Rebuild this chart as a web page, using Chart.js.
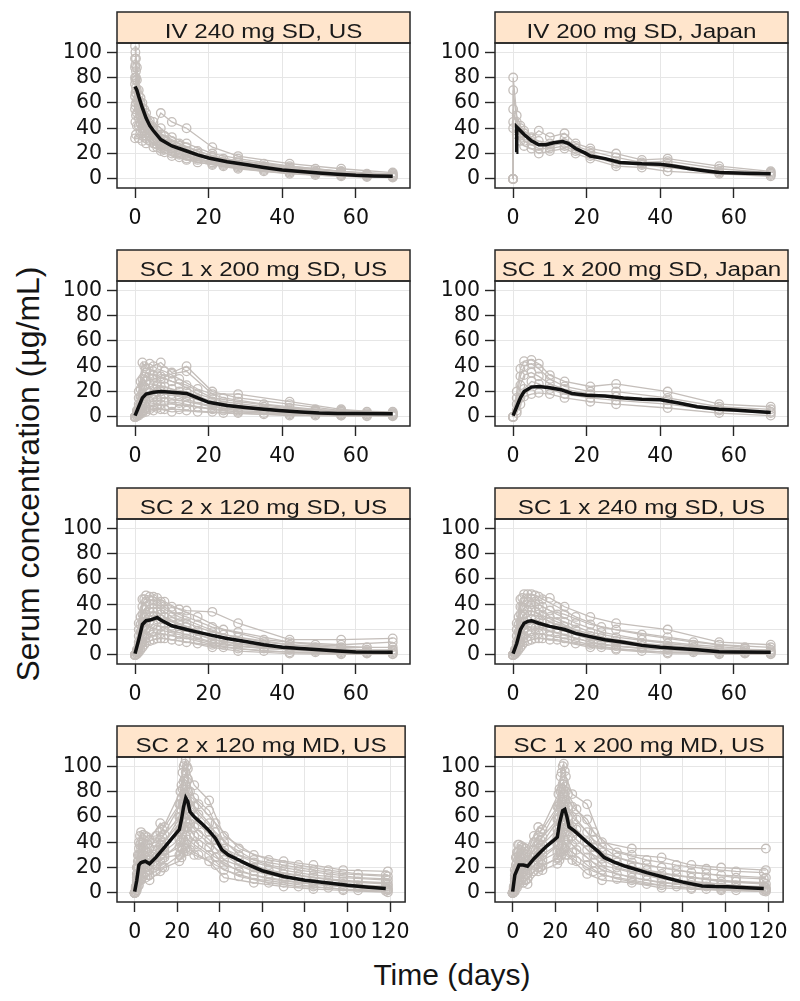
<!DOCTYPE html>
<html>
<head>
<meta charset="utf-8">
<script src="https://cdn.jsdelivr.net/npm/chart.js@4.4.1/dist/chart.umd.min.js"></script>
<style>
  body { margin: 0; background: #fff; }
  #wrap { position: relative; width: 800px; height: 1001px; font-family: "Liberation Sans", Arial, sans-serif; color: #151515; }
  #wrap canvas { position: absolute; }
  #ytitle { position: absolute; left: -222px; top: 458px; width: 500px; height: 32px; line-height: 32px; font-size: 32px; text-align: center; transform: rotate(-90deg); white-space: nowrap; }
  #xtitle { position: absolute; left: 300px; top: 960px; width: 304px; font-size: 30px; line-height: 30px; text-align: center; }
</style>
</head>
<body>
<div id="wrap">
  <div id="ytitle">Serum concentration (µg/mL)</div>
  <div id="xtitle">Time (days)</div>
</div>
<script>
// tick labels
const yTicks = [0, 20, 40, 60, 80, 100];
const xTicksSD = [0, 20, 40, 60];
const xTicksMD = [0, 20, 40, 60, 80, 100, 120];

// sampling days (two sampling schemes per study)
const ivDays = [0, 0.25, 1, 2, 3, 5, 7, 10, 14, 21, 28, 42, 56, 70];
const ivDays2 = [0.1, 0.5, 1.5, 2.5, 4, 6, 8, 12, 17, 24, 35, 49, 63];
const ivJpDays = [0, 0.04, 1, 2, 3, 5, 7, 10, 14, 17, 21, 28, 35, 42, 56, 70];
const scDays = [0, 1, 2, 3, 5, 7, 10, 14, 21, 28, 42, 56, 70];
const scDays2 = [0.5, 1.5, 2.5, 4, 6, 8, 12, 17, 24, 35, 49, 63];
const mdDays = [0, 1, 2, 3, 5, 7, 12, 14, 21, 22, 23, 24, 25, 28, 35, 42, 56, 70, 84, 98, 119];
const mdDays2 = [0.5, 1.5, 2.5, 4, 6, 10, 13, 21.5, 22.5, 23.5, 24.5, 26, 30, 38, 49, 63, 77, 91, 105, 118];

// IV 240 mg SD, US
const ivUsSubj = [
  [105, 95, 70, 60, 52, 45, 40, 33, 28, 20, 16, 10, 6, 4],
  [95, 85, 66, 56, 48, 40, 52, 45, 40, 25, 18, 12, 8, 5],
  [88, 80, 62, 52, 45, 38, 35, 30, 25, 18, 14, 9, 6, 3],
  [80, 72, 58, 48, 42, 35, 30, 26, 22, 17, 13, 8, 5, 3],
  [75, 68, 55, 45, 38, 32, 28, 24, 20, 15, 11, 7, 4, 2],
  [65, 60, 48, 40, 34, 30, 26, 22, 18, 13, 10, 6, 3, 2],
  [55, 50, 42, 36, 32, 28, 24, 20, 16, 12, 9, 5, 3, 1.5],
  [32, 35, 32, 30, 28, 25, 22, 18, 15, 11, 8, 4, 2, 1]
];
const ivUsSubj2 = [
  [100, 88, 64, 55, 46, 38, 34, 28, 22, 16, 12, 8, 4],
  [90, 78, 60, 50, 42, 35, 31, 26, 20, 14, 10, 6, 3.5],
  [78, 70, 55, 46, 38, 32, 28, 23, 18, 13, 9, 5, 3],
  [68, 62, 50, 42, 36, 30, 26, 21, 16, 12, 8, 5, 2.5],
  [58, 52, 44, 38, 33, 27, 23, 19, 15, 11, 7, 4, 2],
  [45, 42, 38, 34, 30, 25, 21, 17, 13, 10, 6, 3, 1.5]
];
const ivUsMeanDays = [0, 0.5, 1, 2, 3, 4, 5, 7, 10, 14, 17, 20, 25, 30, 35, 40, 45, 50, 55, 60, 65, 70];
const ivUsMean = [73, 70, 65, 56, 48, 42, 38, 31, 26, 22, 19, 16.5, 13.5, 11.3, 9, 7, 5.8, 4.7, 3.7, 2.8, 2.3, 2];

// IV 200 mg SD, Japan
const ivJpSubj = [
  [0, 80, 50, 42, 38, 33, 38, 33, 36, 28, 24, 20, 15, 16, 10, 6],
  [0, 70, 45, 40, 36, 32, 30, 28, 32, 26, 22, 17, 13, 14, 8, 5],
  [0, 55, 40, 36, 34, 30, 26, 26, 28, 24, 20, 14, 12, 12, 6, 4],
  [0, 45, 38, 34, 30, 27, 24, 24, 26, 22, 18, 12, 11, 9, 5, 3],
  [0, 40, 35, 30, 26, 24, 20, 22, 24, 20, 16, 10, 9, 6, 4, 2]
];
const ivJpMeanDays = [0.9, 1, 2, 3, 5, 7, 9, 11, 13.5, 15, 17, 19.5, 21, 25, 29, 35, 40, 44, 48, 52, 56, 63, 70];
const ivJpMean = [21, 41, 38, 35, 30, 27, 27, 28.5, 29.5, 28, 24, 20.5, 18, 16, 13, 12, 11.5, 10, 8, 6.5, 5, 4.5, 4];

// SC 1 x 200 mg SD, US
const sc200UsSubj = [
  [0, 20, 43, 38, 40, 43, 35, 40, 20, 15, 10, 5, 4],
  [0, 15, 30, 35, 33, 30, 34, 36, 18, 18, 12, 6, 3],
  [0, 10, 25, 28, 30, 32, 28, 25, 15, 12, 7, 4, 3],
  [0, 8, 18, 22, 25, 24, 22, 20, 12, 9, 5, 3, 2],
  [0, 5, 12, 16, 18, 20, 18, 16, 10, 7, 4, 2, 2],
  [0, 3, 8, 12, 14, 15, 14, 12, 8, 5, 3, 2, 1],
  [0, 2, 5, 7, 9, 10, 10, 9, 6, 4, 2, 1, 1],
  [0, 1, 3, 4, 5, 6, 4, 5, 4, 3, 1, 1, 0.5]
];
const sc200UsSubj2 = [
  [5, 28, 40, 42, 38, 36, 30, 22, 15, 10, 6, 4],
  [4, 22, 32, 34, 33, 30, 26, 18, 12, 8, 5, 3],
  [3, 16, 24, 26, 25, 24, 20, 14, 9, 6, 4, 2],
  [2, 10, 16, 19, 20, 18, 16, 11, 7, 5, 3, 2],
  [1, 6, 10, 12, 13, 12, 11, 8, 5, 3, 2, 1],
  [0.5, 3, 5, 6, 7, 6, 6, 4, 3, 2, 1, 0.5]
];
const sc200UsMeanDays = [0, 1, 2, 3, 5, 7, 10, 14, 17, 20, 25, 30, 35, 40, 45, 50, 55, 60, 70];
const sc200UsMean = [1, 8, 15, 18, 19.5, 20, 19.5, 18.5, 15, 11.5, 9, 7.5, 6, 4.8, 3.8, 3, 2.7, 2.6, 2.5];

// SC 1 x 200 mg SD, Japan
const sc200JpSubj = [
  [0, 20, 38, 44, 45, 42, 33, 28, 24, 26, 20, 10, 8],
  [0, 15, 32, 40, 42, 38, 30, 24, 20, 20, 15, 8, 6],
  [0, 10, 25, 33, 35, 32, 26, 22, 18, 16, 13, 6, 4],
  [0, 5, 15, 22, 28, 26, 22, 18, 15, 13, 10, 5, 3],
  [0, 3, 10, 16, 18, 19, 18, 15, 12, 10, 7, 3, 1]
];
const sc200JpMeanDays = [0, 1, 2, 3, 5, 7, 10, 13, 16, 20, 25, 30, 35, 40, 45, 50, 56, 60, 65, 70];
const sc200JpMean = [1, 8, 15, 20, 23.5, 24, 23, 21.5, 18.5, 17, 16.5, 15, 14, 13.5, 11, 8, 6, 5.5, 4.5, 3.5];

// SC 2 x 120 mg SD, US
const sc2x120Subj = [
  [0, 25, 44, 47, 46, 42, 38, 35, 34, 25, 12, 12, 13],
  [0, 20, 38, 42, 44, 40, 34, 30, 22, 18, 10, 8, 10],
  [0, 15, 32, 38, 40, 36, 30, 25, 18, 14, 8, 6, 6],
  [0, 10, 26, 32, 34, 32, 26, 22, 15, 11, 6, 4, 4],
  [0, 8, 20, 26, 30, 28, 23, 19, 12, 9, 5, 3, 3],
  [0, 5, 15, 20, 24, 22, 19, 16, 10, 7, 4, 2, 2],
  [0, 3, 10, 15, 18, 17, 15, 13, 8, 5, 2, 1, 1],
  [0, 2, 6, 10, 12, 13, 12, 10, 6, 3, 1, 0.5, 0.5]
];
const sc2x120Subj2 = [
  [4, 30, 44, 46, 45, 42, 36, 30, 20, 12, 8, 6],
  [3, 24, 36, 40, 40, 36, 30, 24, 16, 10, 6, 4],
  [2, 18, 30, 34, 34, 30, 25, 19, 13, 8, 5, 3],
  [2, 12, 22, 27, 28, 25, 21, 16, 10, 6, 4, 2],
  [1, 8, 15, 19, 20, 19, 16, 12, 8, 5, 3, 1.5],
  [0.5, 4, 8, 11, 13, 13, 11, 9, 6, 3, 2, 1]
];
const sc2x120MeanDays = [0, 1, 2, 3, 4, 5, 6, 7, 10, 14, 17, 20, 25, 30, 35, 40, 45, 50, 55, 60, 70];
const sc2x120Mean = [1, 12, 24, 27, 27.5, 28.5, 29.5, 27.5, 23, 20, 18, 16, 13, 10.5, 8, 6, 5, 4, 3, 2.2, 2];

// SC 1 x 240 mg SD, US
const sc240Subj = [
  [0, 25, 44, 48, 48, 46, 45, 38, 30, 25, 20, 10, 8],
  [0, 20, 38, 42, 44, 40, 35, 32, 24, 20, 14, 8, 6],
  [0, 15, 32, 37, 40, 36, 30, 26, 18, 14, 9, 5, 4],
  [0, 10, 26, 32, 35, 32, 26, 22, 15, 11, 6, 4, 3],
  [0, 8, 20, 26, 28, 27, 22, 19, 12, 9, 5, 3, 2],
  [0, 5, 15, 20, 22, 22, 19, 16, 10, 7, 4, 2, 2],
  [0, 3, 10, 15, 17, 17, 15, 13, 8, 5, 2, 1, 1],
  [0, 2, 6, 10, 12, 13, 12, 10, 6, 4, 1, 0.5, 0.5]
];
const sc240Subj2 = [
  [4, 30, 45, 48, 47, 44, 38, 30, 22, 16, 10, 6],
  [3, 24, 38, 42, 42, 38, 32, 25, 18, 12, 8, 5],
  [2, 18, 30, 35, 34, 31, 26, 20, 14, 9, 6, 3],
  [2, 12, 23, 27, 28, 25, 21, 16, 11, 7, 4, 2],
  [1, 8, 15, 19, 21, 20, 17, 13, 8, 5, 3, 1.5],
  [0.5, 4, 8, 11, 13, 13, 12, 9, 6, 3, 2, 1]
];
const sc240MeanDays = [0, 1, 2, 3, 4, 5, 7, 10, 14, 17, 20, 25, 30, 35, 40, 45, 50, 56, 60, 70];
const sc240Mean = [1, 9, 20, 25, 26.5, 27, 25, 22.5, 20, 17, 15, 12, 10, 7.5, 6, 5, 4, 2.5, 2.2, 2];

// SC 2 x 120 mg MD, US
const md2x120Subj = [
  [0, 20, 40, 48, 45, 42, 55, 52, 70, 85, 100, 105, 98, 85, 73, 45, 30, 25, 22, 18, 17],
  [0, 15, 35, 40, 38, 35, 48, 46, 60, 75, 88, 95, 90, 75, 65, 40, 26, 22, 18, 15, 13],
  [0, 12, 30, 35, 33, 30, 42, 40, 55, 65, 78, 85, 80, 68, 55, 35, 24, 18, 14, 12, 10],
  [0, 10, 25, 30, 28, 26, 38, 36, 48, 58, 68, 75, 70, 60, 48, 30, 20, 15, 12, 9, 7],
  [0, 8, 20, 25, 24, 22, 34, 33, 42, 50, 60, 66, 62, 52, 42, 26, 17, 12, 9, 7, 5],
  [0, 6, 15, 20, 20, 18, 30, 30, 36, 42, 50, 56, 52, 45, 36, 22, 14, 10, 7, 5, 3],
  [0, 4, 10, 15, 16, 14, 25, 28, 30, 35, 42, 45, 42, 38, 30, 18, 11, 8, 5, 3, 2],
  [0, 2, 6, 10, 12, 10, 17, 20, 25, 28, 32, 35, 33, 30, 25, 12, 8, 5, 3, 2, 0.5]
];
const md2x120Subj2 = [
  [5, 30, 45, 46, 44, 45, 50, 80, 95, 102, 100, 80, 70, 55, 35, 26, 22, 18, 15, 14],
  [4, 25, 38, 40, 38, 40, 44, 70, 82, 90, 88, 72, 62, 48, 30, 22, 18, 15, 12, 11],
  [3, 20, 30, 33, 32, 34, 38, 60, 70, 78, 76, 64, 54, 42, 26, 18, 14, 11, 9, 8],
  [2, 15, 24, 27, 26, 28, 33, 50, 58, 65, 64, 55, 46, 35, 22, 15, 11, 8, 6, 5],
  [1, 10, 17, 20, 20, 22, 27, 40, 46, 52, 52, 45, 38, 28, 17, 11, 8, 6, 4, 3],
  [0.5, 5, 10, 13, 14, 17, 20, 30, 34, 38, 38, 34, 30, 22, 13, 8, 5, 4, 2, 1.5]
];
const md2x120MeanDays = [0, 1, 2, 3, 5, 7, 10, 14, 18, 21, 22, 23, 24, 25, 26, 28, 32, 35, 38, 41, 44, 47, 53, 60, 70, 80, 90, 100, 110, 118];
const md2x120Mean = [1, 10, 22, 24, 25, 23, 28, 36, 44, 50, 58, 68, 75, 72, 64, 60, 54, 49, 43, 34, 30, 27.5, 22.5, 17.5, 13, 10, 8, 6, 4.5, 3.5];

// SC 1 x 200 mg MD, US
const md200Subj = [
  [0, 18, 32, 38, 36, 33, 52, 50, 68, 82, 95, 102, 92, 78, 70, 40, 35, null, null, null, 35],
  [0, 14, 28, 33, 31, 28, 45, 44, 58, 70, 82, 88, 80, 68, 58, 36, 30, 28, 22, 20, 18],
  [0, 11, 24, 29, 27, 25, 40, 38, 50, 60, 72, 78, 70, 60, 48, 32, 24, 20, 16, 14, 12],
  [0, 9, 20, 25, 24, 22, 35, 34, 44, 52, 62, 68, 62, 52, 40, 27, 20, 15, 12, 9, 7],
  [0, 7, 16, 21, 20, 18, 30, 30, 38, 45, 54, 58, 54, 45, 34, 22, 16, 11, 8, 6, 4],
  [0, 5, 12, 16, 16, 15, 25, 26, 32, 38, 46, 50, 46, 38, 28, 18, 12, 8, 6, 4, 3],
  [0, 3, 8, 12, 12, 11, 20, 22, 27, 32, 38, 42, 38, 32, 22, 14, 10, 6, 4, 3, 2],
  [0, 1, 4, 7, 8, 7, 17, 18, 23, 26, 30, 33, 30, 26, 15, 10, 8, 4, 3, 2, 1]
];
const md200Subj2 = [
  [5, 28, 38, 37, 35, 45, 48, 78, 92, 100, 96, 78, 66, 48, 32, 26, 22, 19, 17, 16],
  [4, 22, 32, 31, 30, 40, 42, 68, 80, 86, 84, 68, 58, 42, 28, 22, 18, 15, 12, 11],
  [3, 17, 26, 26, 25, 34, 37, 58, 68, 74, 72, 60, 50, 36, 24, 18, 14, 11, 9, 8],
  [2, 13, 20, 21, 20, 28, 32, 48, 56, 62, 60, 52, 42, 30, 20, 14, 10, 8, 6, 5],
  [1, 9, 14, 16, 15, 22, 26, 38, 44, 48, 48, 42, 34, 24, 15, 10, 7, 5, 4, 3],
  [0.5, 5, 8, 10, 10, 17, 20, 28, 32, 35, 35, 30, 25, 17, 11, 7, 5, 3, 2, 1.5]
];
const md200MeanDays = [0, 1, 3, 5, 7, 10, 13, 16, 19, 21, 22, 23.5, 24.5, 25.5, 26.5, 29, 35, 40, 43, 48, 53, 63, 72, 80, 89, 95, 101, 110, 118];
const md200Mean = [1, 14, 22, 22, 21, 27, 32, 37, 41, 44, 55, 65, 66, 60, 52, 49, 40, 33, 28, 24, 21, 16, 12, 8.5, 5.5, 5, 4.8, 4, 3.5];

const panelTitles = [
  'IV 240 mg SD, US', 'IV 200 mg SD, Japan',
  'SC 1 x 200 mg SD, US', 'SC 1 x 200 mg SD, Japan',
  'SC 2 x 120 mg SD, US', 'SC 1 x 240 mg SD, US',
  'SC 2 x 120 mg MD, US', 'SC 1 x 200 mg MD, US'
];

const panels = [
  { groups: [[ivDays, ivUsSubj], [ivDays2, ivUsSubj2]], meanDays: ivUsMeanDays, mean: ivUsMean, md: false },
  { groups: [[ivJpDays, ivJpSubj]], meanDays: ivJpMeanDays, mean: ivJpMean, md: false },
  { groups: [[scDays, sc200UsSubj], [scDays2, sc200UsSubj2]], meanDays: sc200UsMeanDays, mean: sc200UsMean, md: false },
  { groups: [[scDays, sc200JpSubj]], meanDays: sc200JpMeanDays, mean: sc200JpMean, md: false },
  { groups: [[scDays, sc2x120Subj], [scDays2, sc2x120Subj2]], meanDays: sc2x120MeanDays, mean: sc2x120Mean, md: false },
  { groups: [[scDays, sc240Subj], [scDays2, sc240Subj2]], meanDays: sc240MeanDays, mean: sc240Mean, md: false },
  { groups: [[mdDays, md2x120Subj], [mdDays2, md2x120Subj2]], meanDays: md2x120MeanDays, mean: md2x120Mean, md: true },
  { groups: [[mdDays, md200Subj], [mdDays2, md200Subj2]], meanDays: md200MeanDays, mean: md200Mean, md: true }
];

const grey = '#c4beba';
const dark = '#262626';
const stripH = 31;

// strip on top of each panel plus the box round the plot area
const stripPlugin = {
  id: 'strip',
  afterDraw(chart, args, opts) {
    const { ctx, chartArea: a } = chart;
    const w = a.right - a.left;
    ctx.save();
    ctx.fillStyle = '#ffe5cc';
    ctx.fillRect(a.left, a.top - stripH, w, stripH);
    ctx.strokeStyle = dark;
    ctx.lineWidth = 1.5;
    ctx.strokeRect(a.left, a.top - stripH, w, stripH);
    ctx.strokeRect(a.left, a.top, w, a.bottom - a.top);
    ctx.fillStyle = '#1a1a1a';
    ctx.font = '19.5px "Liberation Sans", Arial, sans-serif';
    ctx.textAlign = 'center';
    ctx.textBaseline = 'alphabetic';
    ctx.translate((a.left + a.right) / 2, a.top - stripH + 25.5);
    ctx.scale(1.24, 1);
    ctx.fillText(opts.text, 0, 0);
    ctx.restore();
  }
};

const wrap = document.getElementById('wrap');
const tickFont = { family: 'DejaVu Sans', size: 20.5 };

panels.forEach((p, i) => {
  const col = i % 2, row = Math.floor(i / 2);
  const cv = document.createElement('canvas');
  cv.width = 363;
  cv.height = 223;
  cv.style.left = (col ? 433 : 55) + 'px';
  cv.style.top = (10 + row * 238) + 'px';
  wrap.appendChild(cv);

  const datasets = [];
  p.groups.forEach(([days, subj]) => {
    subj.forEach(s => datasets.push({
      data: days.map((d, k) => ({ x: d, y: s[k] })),
      order: 1,
      showLine: true,
      spanGaps: true,
      borderColor: grey,
      borderWidth: 1.3,
      pointRadius: 4.3,
      pointBorderWidth: 1.3,
      pointBorderColor: grey,
      pointBackgroundColor: 'rgba(255,255,255,0)'
    }));
  });
  // mean profile, drawn on top (lowest order)
  datasets.push({
    data: p.meanDays.map((d, k) => ({ x: d, y: p.mean[k] })),
    order: 0,
    showLine: true,
    borderColor: '#111',
    borderWidth: 3.5,
    pointRadius: 0
  });

  const xTicks = p.md ? xTicksMD : xTicksSD;
  new Chart(cv, {
    type: 'scatter',
    data: { datasets },
    options: {
      responsive: false,
      animation: false,
      devicePixelRatio: 1,
      layout: { padding: { top: 33, right: 8, left: 0, bottom: 0 } },
      plugins: {
        legend: { display: false },
        tooltip: { enabled: false },
        strip: { text: panelTitles[i] }
      },
      scales: {
        x: {
          type: 'linear',
          min: p.md ? -8.3 : -4.9,
          max: p.md ? 127.1 : 74.7,
          afterBuildTicks: s => { s.ticks = xTicks.map(v => ({ value: v })); },
          afterFit: s => { s.height = 45; },
          grid: { color: '#e6e6e6', lineWidth: 1, tickColor: dark, tickLength: 10, tickWidth: 1.4 },
          border: { display: false },
          ticks: { font: tickFont, color: '#111', padding: 8, maxRotation: 0, autoSkip: false }
        },
        y: {
          type: 'linear',
          min: -7.2,
          max: 107.3,
          afterBuildTicks: s => { s.ticks = yTicks.map(v => ({ value: v })); },
          afterFit: s => { s.width = 62; },
          grid: { color: '#e6e6e6', lineWidth: 1, tickColor: dark, tickLength: 10, tickWidth: 1.4 },
          border: { display: false },
          ticks: { font: tickFont, color: '#111', padding: 5, autoSkip: false }
        }
      }
    },
    plugins: [stripPlugin]
  });
});
</script>
</body>
</html>
